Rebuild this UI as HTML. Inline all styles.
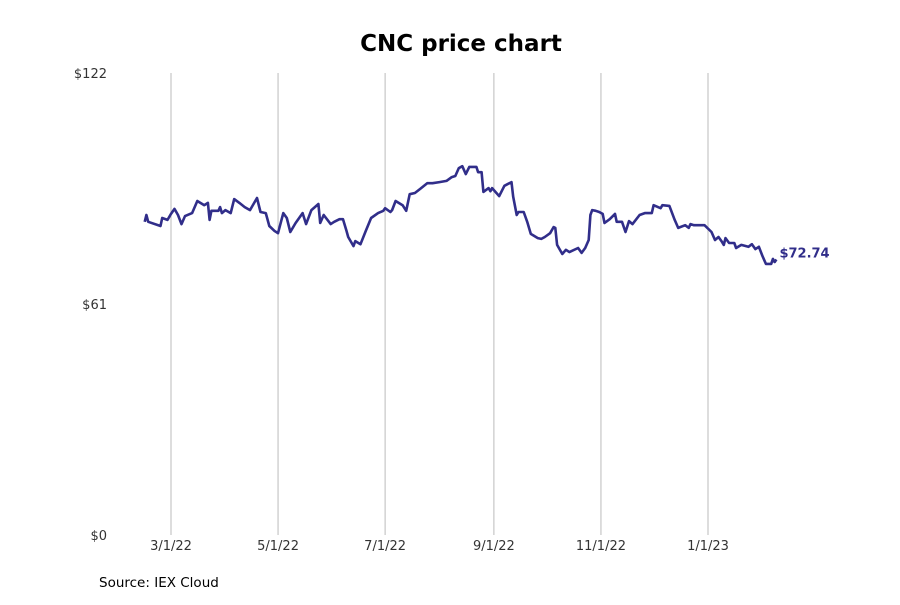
<!DOCTYPE html>
<html><head><meta charset="utf-8"><style>
body{margin:0;background:#fff;font-family:"Liberation Sans","DejaVu Sans",sans-serif}
</style></head><body>
<svg id="chart" width="900" height="600" xmlns="http://www.w3.org/2000/svg" font-family="DejaVu Sans, Liberation Sans, sans-serif">
<rect width="900" height="600" fill="#fff"/>
<text x="461" y="51" text-anchor="middle" font-size="23" font-weight="bold" fill="#000">CNC price chart</text>
<g id="grid"></g><g id="yaxis"></g><g id="xaxis"></g><g id="series"></g>
<text x="99" y="587" font-size="13.5" fill="#000">Source: IEX Cloud</text>
</svg>
<script>
const dayOffsets=[-15,-14,-13,-6,-5,-2,0,2,4,6,8,12,15,19,21,22,23,27,28,29,31,34,36,39,42,45,49,51,54,56,59,61,64,66,68,71,75,77,80,84,85,87,91,93,96,98,100,101,104,105,108,111,114,118,121,122,125,126,128,132,134,136,139,142,146,149,153,157,160,162,164,166,168,170,174,175,177,178,181,182,183,187,190,194,195,197,198,201,203,205,209,211,213,216,218,219,220,223,225,227,232,234,236,238,239,240,242,244,246,247,250,253,254,257,259,261,263,267,270,274,275,279,280,284,287,289,293,295,296,298,304,308,310,312,314,315,316,318,321,322,325,329,331,333,335,337,339,342,343,344,345];
const prices=[82.7,84.5,82.7,81.6,83.7,83.2,84.8,86.1,84.5,82.1,84.2,85.0,88.2,87.1,87.7,83.2,85.6,85.6,86.6,85.0,85.8,85.0,88.7,87.7,86.6,85.8,89.0,85.3,85.0,81.6,80.3,79.7,85.0,83.7,80.0,82.4,85.0,82.1,85.8,87.4,82.4,84.5,82.1,82.7,83.4,83.4,80.3,78.7,76.3,77.6,76.8,80.3,83.7,85.0,85.6,86.3,85.3,85.8,88.2,87.1,85.6,90.0,90.3,91.4,92.9,92.9,93.2,93.5,94.5,94.8,96.9,97.4,95.3,97.2,97.2,95.8,95.8,90.6,91.6,90.8,91.6,89.5,92.2,93.2,89.3,84.5,85.3,85.3,82.7,79.5,78.4,78.2,78.7,79.7,81.3,81.1,76.6,74.2,75.3,74.7,75.8,74.5,75.8,77.9,84.5,85.8,85.6,85.3,84.8,82.4,83.4,84.8,82.7,82.7,80.0,82.9,82.1,84.5,85.0,85.0,87.1,86.3,87.1,86.9,83.2,81.1,81.8,81.1,82.1,81.8,81.8,80.0,77.9,78.7,77.4,76.6,78.4,77.1,77.1,75.8,76.6,76.1,76.8,75.5,76.1,73.7,71.6,71.6,72.9,72.1,72.74];
const xTickLabels=["3/1/22","5/1/22","7/1/22","9/1/22","11/1/22","1/1/23"];
const xTickDays=[0,61,122,184,245,306];
const yTickValues=[0,61,122];
const NS="http://www.w3.org/2000/svg";
const X=d=>171+d*(708-171)/306;
const Y=v=>535-v*(535-73)/122;
function mk(tag,attrs,parent,text){const e=document.createElementNS(NS,tag);for(const k in attrs)e.setAttribute(k,attrs[k]);if(text!=null)e.textContent=text;parent.appendChild(e);return e;}
const grid=document.getElementById('grid'),xa=document.getElementById('xaxis'),ya=document.getElementById('yaxis'),ser=document.getElementById('series');
xTickDays.forEach((d,i)=>{
 const l=mk('line',{x1:X(d),x2:X(d),y1:73,y2:535,stroke:'#bbb','stroke-width':1},grid);
 
 
 const t=mk('text',{x:X(d),y:550,'text-anchor':'middle','font-size':13,fill:'#333'},xa,xTickLabels[i]);
 
 
});
yTickValues.forEach(v=>{
 const t=mk('text',{x:107,y:Y(v)+5,'text-anchor':'end','font-size':13,fill:'#333'},ya,'$'+v);
 
 
});
const pts=dayOffsets.map((d,i)=>X(d).toFixed(1)+','+Y(prices[i]).toFixed(1)).join(' ');
const pl=mk('polyline',{points:pts,fill:'none',stroke:'#312e8a','stroke-width':2.6,'stroke-linejoin':'round'},ser);


const last=prices[prices.length-1];
const lb=mk('text',{x:X(dayOffsets[dayOffsets.length-1])+3,y:Y(last)-2,'font-size':13,'font-weight':'bold',fill:'#312e8a'},ser,'$'+last.toFixed(2));


</script>
</body></html>
